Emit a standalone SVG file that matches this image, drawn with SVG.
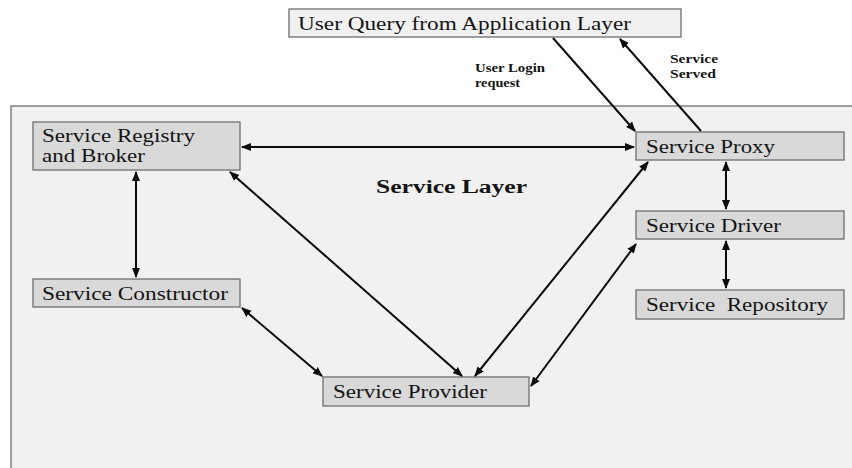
<svg xmlns="http://www.w3.org/2000/svg" width="852" height="468" viewBox="0 0 852 468">
<defs>
<style>
.node rect{fill:#d9d9d9;stroke:#6e6e6e;stroke-width:1.3}
.t{font-family:"Liberation Serif","DejaVu Serif","Times New Roman",serif;font-size:18px;fill:#141414}
.lbl{font-family:"Liberation Serif","DejaVu Serif","Times New Roman",serif;font-size:12px;font-weight:bold;fill:#141414}
.conn line{stroke:#0a0a0a;stroke-width:2;fill:none}
</style>
<marker id="ah" viewBox="0 0 10 10" refX="9" refY="5" markerWidth="5" markerHeight="5" orient="auto-start-reverse" markerUnits="strokeWidth">
<path d="M0,1 L10,5 L0,9 z" fill="#0a0a0a"/>
</marker>
</defs>
<rect x="0" y="0" width="852" height="468" fill="#ffffff"/>
<rect id="frame" x="11" y="106" width="850" height="370" fill="#f1f1f1" stroke="#6e6e6e" stroke-width="1.3"/>
<text class="t" x="376" y="193" font-family="Liberation Serif, serif" style="font-weight:bold" textLength="151" lengthAdjust="spacingAndGlyphs">Service Layer</text>
<text class="lbl" x="475" y="72" textLength="70" lengthAdjust="spacingAndGlyphs">User Login</text>
<text class="lbl" x="475" y="87" textLength="45" lengthAdjust="spacingAndGlyphs">request</text>
<text class="lbl" x="670" y="63" textLength="48" lengthAdjust="spacingAndGlyphs">Service</text>
<text class="lbl" x="670" y="78" textLength="46" lengthAdjust="spacingAndGlyphs">Served</text>
<g id="user-query" class="node"><rect x="289" y="9" width="392" height="28" style="fill:#f1f1f1"/><text class="t" x="298" y="30" textLength="333" lengthAdjust="spacingAndGlyphs">User Query from Application Layer</text></g>
<g id="registry" class="node"><rect x="33" y="122" width="207" height="48"/><text class="t" x="42" y="142" textLength="153" lengthAdjust="spacingAndGlyphs">Service Registry</text><text class="t" x="42" y="162" textLength="103" lengthAdjust="spacingAndGlyphs">and Broker</text></g>
<g id="constructor" class="node"><rect x="33" y="279" width="207" height="28"/><text class="t" x="42" y="300" textLength="186" lengthAdjust="spacingAndGlyphs">Service Constructor</text></g>
<g id="provider" class="node"><rect x="323" y="377" width="206" height="29"/><text class="t" x="333" y="398" textLength="154" lengthAdjust="spacingAndGlyphs">Service Provider</text></g>
<g id="proxy" class="node"><rect x="636" y="132" width="208" height="28"/><text class="t" x="646" y="153" textLength="129" lengthAdjust="spacingAndGlyphs">Service Proxy</text></g>
<g id="driver" class="node"><rect x="636" y="211" width="208" height="28"/><text class="t" x="646" y="232" textLength="135" lengthAdjust="spacingAndGlyphs">Service Driver</text></g>
<g id="repository" class="node"><rect x="636" y="290" width="208" height="29"/><text class="t" x="646" y="311" textLength="182" lengthAdjust="spacingAndGlyphs" xml:space="preserve">Service  Repository</text></g>
<g id="connectors" class="conn">
<line x1="553" y1="38" x2="635" y2="131" marker-end="url(#ah)"/>
<line x1="701" y1="131" x2="620" y2="39" marker-end="url(#ah)"/>
<line x1="242" y1="147" x2="634" y2="147" marker-start="url(#ah)" marker-end="url(#ah)"/>
<line x1="136" y1="172" x2="136" y2="277" marker-start="url(#ah)" marker-end="url(#ah)"/>
<line x1="230" y1="172" x2="462" y2="376" marker-start="url(#ah)" marker-end="url(#ah)"/>
<line x1="648" y1="162" x2="475" y2="376" marker-start="url(#ah)" marker-end="url(#ah)"/>
<line x1="636" y1="244" x2="531" y2="386" marker-start="url(#ah)" marker-end="url(#ah)"/>
<line x1="242" y1="308" x2="322" y2="376" marker-start="url(#ah)" marker-end="url(#ah)"/>
<line x1="726" y1="162" x2="726" y2="209" marker-start="url(#ah)" marker-end="url(#ah)"/>
<line x1="726" y1="241" x2="726" y2="288" marker-start="url(#ah)" marker-end="url(#ah)"/>
</g>
</svg>
